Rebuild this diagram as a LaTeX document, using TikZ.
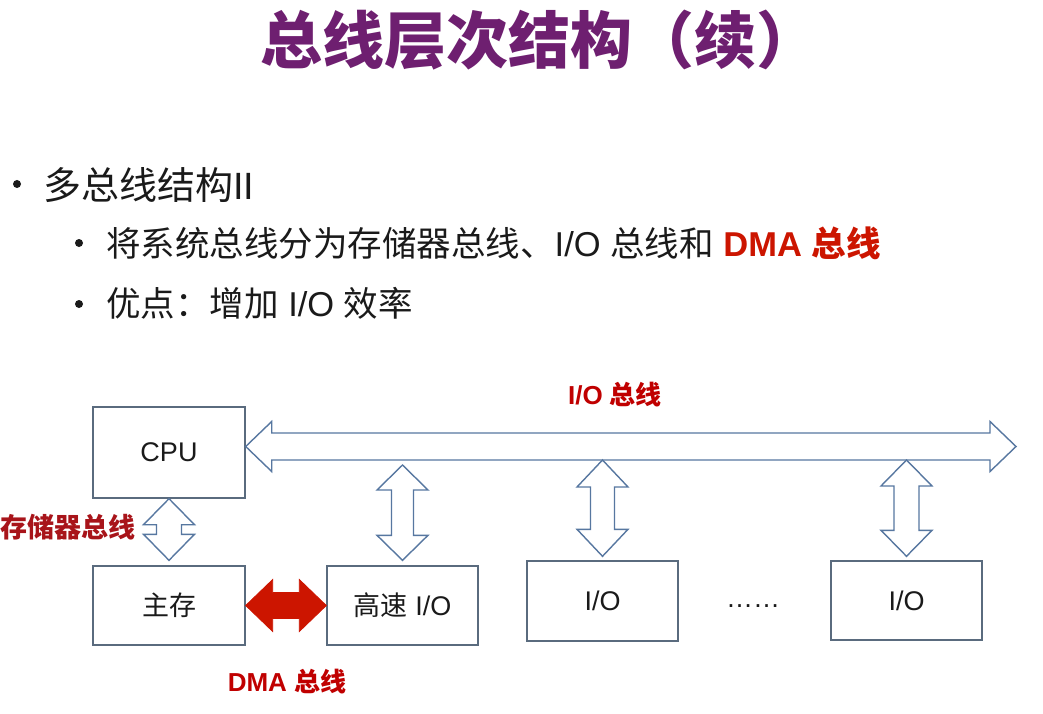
\documentclass[tikz,border=0pt]{standalone}
\usepackage{fontspec}
\setmainfont{Liberation Sans}
\newfontfamily\cjk{Noto Sans CJK SC}
\usetikzlibrary{calc}
\definecolor{titlepurple}{HTML}{6E1F70}
\definecolor{txt}{HTML}{1A1A1A}
\definecolor{labelred}{HTML}{C00000}
\definecolor{darklabel}{HTML}{A8141A}
\definecolor{boxline}{HTML}{5A6B7E}
\definecolor{arrline}{HTML}{5777A0}
\definecolor{dmared}{HTML}{CC1500}
% vertical double block arrow: #1 style, #2 top tip, #3 bottom tip, #4 head half width, #5 shaft half width, #6 head length
\newcommand\vbiarrow[6]{%
  \draw[#1] (#2) -- ($(#2)+(#4,#6)$) -- ($(#2)+(#5,#6)$) -- ($(#3)+(#5,-#6)$) -- ($(#3)+(#4,-#6)$) -- (#3)
    -- ($(#3)+(-#4,-#6)$) -- ($(#3)+(-#5,-#6)$) -- ($(#2)+(-#5,#6)$) -- ($(#2)+(-#4,#6)$) -- cycle;}
% horizontal double block arrow: #1 style, #2 left tip, #3 right tip, #4 head half width, #5 shaft half width, #6 head length
\newcommand\hbiarrow[6]{%
  \draw[#1] (#2) -- ($(#2)+(#6,-#4)$) -- ($(#2)+(#6,-#5)$) -- ($(#3)+(-#6,-#5)$) -- ($(#3)+(-#6,-#4)$) -- (#3)
    -- ($(#3)+(-#6,#4)$) -- ($(#3)+(-#6,#5)$) -- ($(#2)+(#6,#5)$) -- ($(#2)+(#6,#4)$) -- cycle;}
\begin{document}
\begin{tikzpicture}[x=1pt,y=-1pt,
  unitbox/.style={draw=boxline, line width=1.4pt, minimum width=152pt, text=txt,
    font=\fontsize{27}{32}\selectfont, inner sep=0pt},
  hollowarrow/.style={draw=arrline, line width=1.4pt, fill=white, line join=miter},
  redarrow/.style={draw=dmared, fill=dmared, line width=0.8pt, line join=miter},
  buslabel/.style={text=labelred, font=\bfseries\fontsize{26}{30}\selectfont, inner sep=0pt},
  bulletdot/.style={circle, fill=txt, minimum size=8pt, inner sep=0pt},
  lineone/.style={anchor=west, inner sep=0pt, text=txt, font=\fontsize{38}{44}\selectfont},
  linetwo/.style={anchor=west, inner sep=0pt, text=txt, font=\fontsize{34.5}{40}\selectfont}]
\useasboundingbox[fill=white] (0,0) rectangle (1043,714);

% title
\node[inner sep=0pt, text=titlepurple, font=\cjk\bfseries\fontsize{62}{72}\selectfont] (title) at (539,40) {总线层次结构（续）};

% bullets
\node[bulletdot] (bul1) at (17,184) {};
\node[lineone] (line1) at (43,185) {{\cjk 多总线结构}II};
\node[bulletdot] (bul2) at (79,243) {};
\node[linetwo] (line2) at (106,243) {{\cjk 将系统总线分为存储器总线、}I/O {\cjk 总线和} \textcolor{dmared}{\textbf{DMA {\cjk 总线}}}};
\node[bulletdot] (bul3) at (79,304) {};
\node[linetwo] (line3) at (106,303) {{\cjk 优点：增加} I/O {\cjk 效率}};

% boxes
\node[unitbox, minimum height=91pt] (cpu) at (169,452.5) {CPU};
\node[unitbox, minimum height=79pt] (mem) at (169,605.5) {\cjk 主存};
\node[unitbox, minimum width=151pt, minimum height=79pt] (hsio) at (402.5,605.5) {{\cjk 高速} I/O};
\node[unitbox, minimum width=151pt, minimum height=80pt] (io1) at (602.5,601) {I/O};
\node[unitbox, minimum width=151pt, minimum height=79pt] (io2) at (906.5,600.5) {I/O};
\node[inner sep=0pt, text=txt, font=\fontsize{27}{32}\selectfont] (dots) at (753,606) {……};

% I/O bus
\coordinate (busL) at ($(cpu.east)+(0,-6)$);
\coordinate (busR) at (1016,446.5);
\hbiarrow{hollowarrow}{busL}{busR}{25}{13.5}{26}

% memory bus
\coordinate (memtop) at (cpu.south);
\coordinate (membot) at ($(mem.north)+(0,-5)$);
\vbiarrow{hollowarrow}{memtop}{membot}{25.5}{12.5}{26}

% bus to high speed I/O
\coordinate (hstop) at ($(hsio.north |- busL)+(0,18.5)$);
\coordinate (hsbot) at ($(hsio.north)+(0,-5)$);
\vbiarrow{hollowarrow}{hstop}{hsbot}{25.5}{11}{25}

% bus to I/O
\coordinate (ioatop) at ($(io1.north |- busL)+(0,13.5)$);
\coordinate (ioabot) at ($(io1.north)+(0,-4)$);
\vbiarrow{hollowarrow}{ioatop}{ioabot}{25.5}{12}{27}

\coordinate (iobtop) at ($(io2.north |- busL)+(0,13.5)$);
\coordinate (iobbot) at ($(io2.north)+(0,-4)$);
\vbiarrow{hollowarrow}{iobtop}{iobbot}{25.5}{12.5}{26}

% DMA bus
\hbiarrow{redarrow}{mem.east}{hsio.west}{26}{13}{27}

% labels
\node[buslabel] (iolbl) at (615,395) {I/O {\cjk 总线}};
\node[buslabel] (dmalbl) at (287,682) {DMA {\cjk 总线}};
\node[buslabel, text=darklabel, font=\cjk\bfseries\fontsize{27}{30}\selectfont] (memlbl) at (68,527) {存储器总线};
\end{tikzpicture}
\end{document}
